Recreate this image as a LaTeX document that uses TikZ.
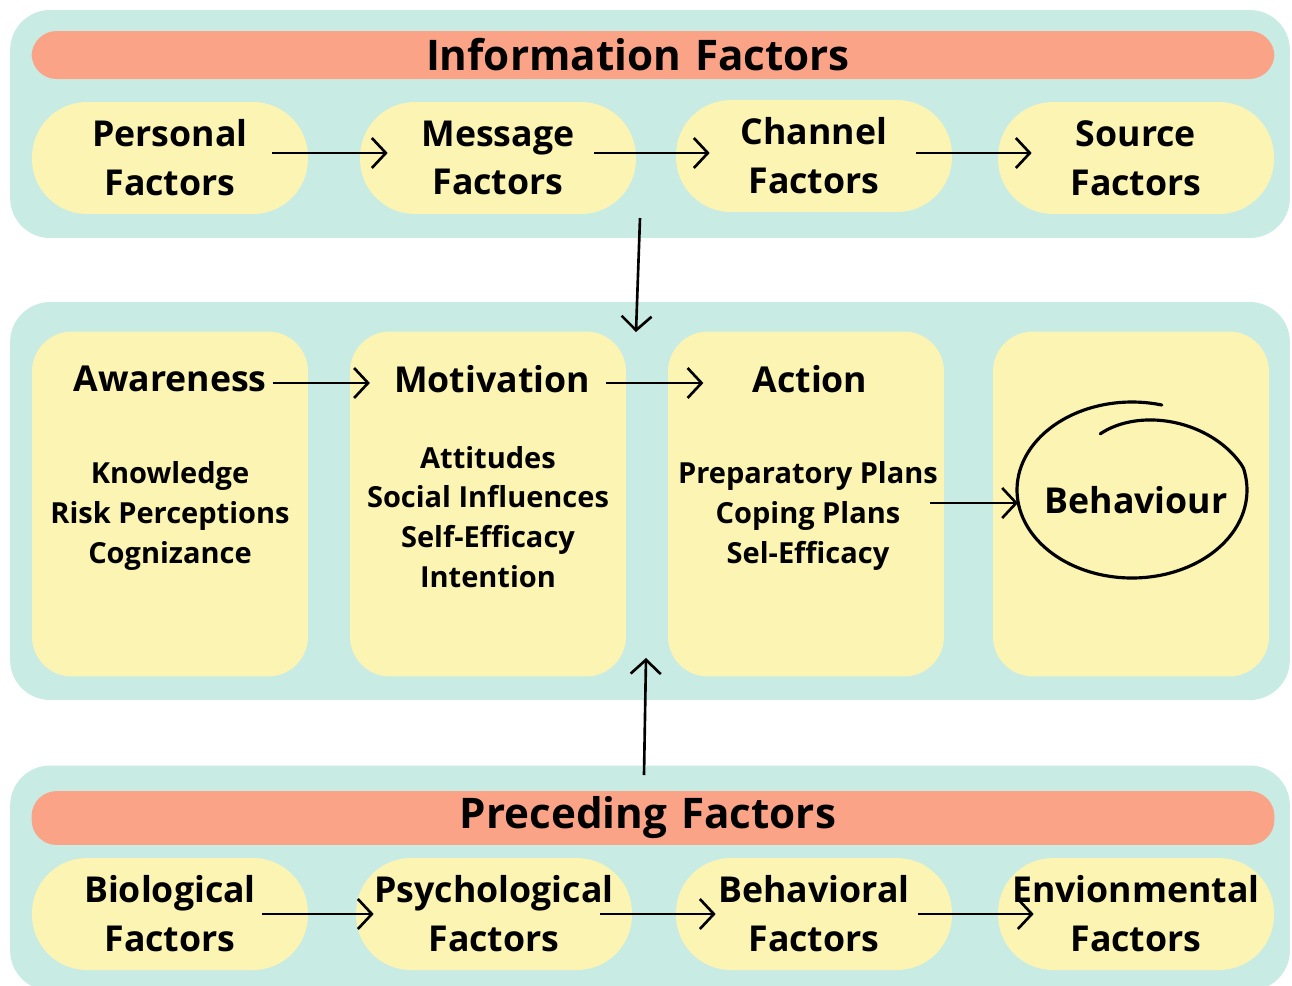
\documentclass[tikz,border=0pt]{standalone}
\usepackage{fontspec}
\setmainfont{Open Sans}
\usetikzlibrary{arrows.meta}

\definecolor{panelteal}{RGB}{200,236,228}
\definecolor{bannerorange}{RGB}{250,163,135}
\definecolor{pillyellow}{RGB}{251,244,178}

\begin{document}
\begin{tikzpicture}
    [
        x = 0.02cm, y = -0.02cm,
        panel/.style = {fill = panelteal, rounded corners = 0.8cm, minimum width = 25.6cm},
        banner/.style = {fill = bannerorange, rounded corners = 0.5cm, minimum width = 24.86cm,
                minimum height = 0.96cm, font = \bfseries\fontsize{24}{28}\selectfont},
        pill/.style = {fill = pillyellow, rounded corners = 1.1cm, minimum width = 5.52cm,
                minimum height = 2.24cm, align = center, font = \bfseries\fontsize{20.3}{27.8}\selectfont},
        stage/.style = {fill = pillyellow, rounded corners = 0.8cm, minimum width = 5.52cm, minimum height = 6.9cm},
        head/.style = {font = \bfseries\fontsize{20.3}{26}\selectfont},
        items/.style = {align = center, font = \bfseries\fontsize{16.5}{22.7}\selectfont},
        flow/.style = {-{Straight Barb[length=2.8mm, width=6mm]}, line width = 1.5pt},
    ]

    \useasboundingbox (0,0) rectangle (1292,985);
    \fill[white] (0,0) rectangle (1292,985);

    % the three panels
    \node (top) [panel, minimum height = 4.56cm] at (650,124) {};
    \node (mid) [panel, minimum height = 7.96cm] at (650,501) {};
    \begin{scope}
        \clip (0,0) rectangle (1292,985);
        \node (bot) [panel, minimum height = 4.5cm] at (650,878) {};
    \end{scope}

    % information factors
    \node (info) [banner, text width = 24.2cm, align = center] at (653,55) {\hspace*{-0.6cm}Information Factors};
    \node (pers) [pill] at (170,158) {Personal\\Factors};
    \node (mess) [pill] at (498,158) {Message\\Factors};
    \node (chan) [pill] at (814,156) {Channel\\Factors};
    \node (sour) [pill] at (1136,158) {Source\\Factors};

    % stages
    \node (aw)  [stage] at (170,504) {};
    \node (mot) [stage] at (488,504) {};
    \node (act) [stage] at (806,504) {};
    \node (beh-box) [stage] at (1131,504) {};

    \node (aw-head)  [head] at (170,379) {Awareness};
    \node (mot-head) [head] at (492,379) {Motivation};
    \node (act-head) [head] at (810,379) {Action};

    \node (aw-items)  [items] at (170,516) {Knowledge\\Risk Perceptions\\Cognizance};
    \node (mot-items) [items] at (488,517) {Attitudes\\Social Influences\\Self-Efficacy\\Intention};
    \node (act-items) [items] at (808,516) {Preparatory Plans\\Coping Plans\\Sel-Efficacy};

    \node (beh) [head] at (1136,500) {Behaviour};
    \draw[line width = 1.8pt, line cap = round]
        plot[domain = 75:475, samples = 140, smooth]
        ({1132 + (115 - 40*max(0,\x-375)/100)*cos(\x)},
         {490 - (88 - 26*max(0,\x-375)/100)*sin(\x)});
    \coordinate (beh-w) at (1018,503);

    % preceding factors
    \node (prec) [banner, text width = 24.2cm, align = center] at (653,818) {\hspace*{-0.2cm}Preceding Factors};
    \node (bio) [pill] at (170,914) {Biological\\Factors};
    \node (psy) [pill] at (494,914) {Psychological\\Factors};
    \node (bhv) [pill] at (814,914) {Behavioral\\Factors};
    \node (env) [pill] at (1136,914) {Envionmental\\Factors};

    % arrows
    \draw[flow, shorten <=-0.72cm, shorten >=-0.56cm] ([yshift=0.1cm]pers.east) -- ([yshift=0.1cm]pers.east -| mess.west);
    \draw[flow, shorten <=-0.84cm, shorten >=-0.68cm] ([yshift=0.1cm]mess.east) -- ([yshift=0.1cm]mess.east -| chan.west);
    \draw[flow, shorten <=-0.72cm, shorten >=-0.68cm] ([yshift=0.1cm]chan.east |- sour.east) -- ([yshift=0.1cm]sour.west);

    \draw[flow, shorten <=-0.92cm, shorten >=-0.36cm] (bio.east) -- (psy.west);
    \draw[flow, shorten <=-0.64cm, shorten >=-0.8cm] (psy.east) -- (bhv.west);
    \draw[flow, shorten <=-0.68cm, shorten >=-0.72cm] (bhv.east) -- (env.west);

    \draw[flow, shorten >=0.36cm] ([yshift=-0.08cm]aw-head.east) -- ([yshift=-0.08cm]mot-head.west);
    \draw[flow, shorten <=0.2cm, shorten >=0.86cm] ([yshift=-0.08cm]mot-head.east) -- ([yshift=-0.08cm]act-head.west);
    \draw[flow, shorten <=-0.28cm] (act.east |- beh-w) -- (beh-w);

    \coordinate (info-out) at (640,218);
    \coordinate (mid-in) at (636,332);
    \draw[flow] (info-out) -- (mid-in);

    \coordinate (prec-out) at (644,775);
    \coordinate (mid-out) at (646,658);
    \draw[flow] (prec-out) -- (mid-out);

\end{tikzpicture}
\end{document}
